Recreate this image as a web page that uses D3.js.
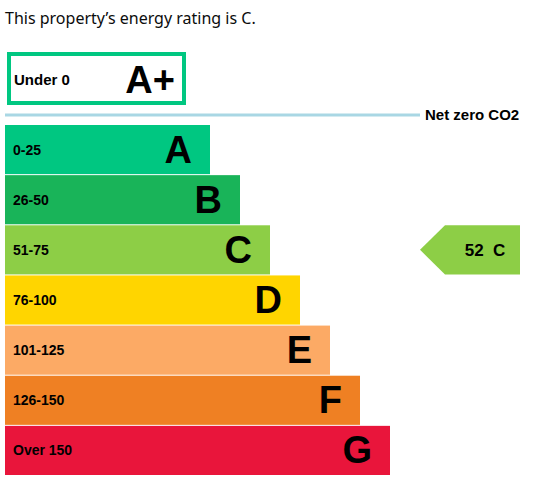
<!DOCTYPE html>
<html><head><meta charset="utf-8">
<script src="https://cdn.jsdelivr.net/npm/d3@7"></script>
<style>body{margin:0;background:#fff}</style></head>
<body><svg id="c" width="560" height="484"></svg>
<script>
const bands = ["A","B","C","D","E","F","G"];
const ranges = ["0-25","26-50","51-75","76-100","101-125","126-150","Over 150"];
const maxScore = [25,50,75,100,125,150,175];
const colors = ["#00c781","#19b459","#8dce46","#ffd500","#fcaa65","#ef8023","#e9153b"];
const current = {score:52, band:"C"};

const svg = d3.select("#c");
const font = "Arial, 'Liberation Sans', sans-serif";
svg.append("text").attr("x",5).attr("y",24).attr("font-family","'Noto Sans', sans-serif")
  .attr("font-size",16).attr("fill","#0b0c0c").text("This property\u2019s energy rating is C.");

const y = d3.scaleBand().domain(bands).range([125,475]).paddingInner(0.02);
const w = d3.scaleLinear().domain([25,175]).range([205,385]);

// A+ box
svg.append("rect").attr("x",9).attr("y",54).attr("width",175).attr("height",49)
  .attr("fill","#fff").attr("stroke","#00c781").attr("stroke-width",4);
svg.append("text").attr("x",14).attr("y",85).attr("font-family",font).attr("font-weight","bold")
  .attr("font-size",15).text("Under 0");
svg.append("text").attr("x",175).attr("y",93).attr("text-anchor","end").attr("font-family",font)
  .attr("font-weight","bold").attr("font-size",38).text("A+");
svg.append("line").attr("x1",5).attr("x2",420).attr("y1",115).attr("y2",115)
  .attr("stroke","#a9d7e4").attr("stroke-width",3);
svg.append("text").attr("x",425).attr("y",120).attr("font-family",font).attr("font-weight","bold")
  .attr("font-size",15).text("Net zero CO2");

const g = svg.selectAll("g.b").data(bands).join("g");
g.append("rect").attr("x",5).attr("y",d=>y(d)).attr("height",y.bandwidth())
  .attr("width",(d,i)=>w(maxScore[i])).attr("fill",(d,i)=>colors[i]);
g.append("text").attr("x",13).attr("y",d=>y(d)+y.bandwidth()/2+5).attr("font-family",font)
  .attr("font-weight","bold").attr("font-size",14).text((d,i)=>ranges[i]);
g.append("text").attr("x",(d,i)=>5+w(maxScore[i])-18).attr("y",d=>y(d)+y.bandwidth()/2+13)
  .attr("text-anchor","end").attr("font-family",font).attr("font-weight","bold")
  .attr("font-size",38).text(d=>d);

// current arrow
const cy = y(current.band), h = y.bandwidth();
svg.append("path").attr("d",`M420,${cy+h/2}L445,${cy}H520V${cy+h}H445Z`).attr("fill","#8dce46");
svg.append("text").attr("x",485).attr("y",cy+h/2+6).attr("text-anchor","middle").attr("font-family",font)
  .attr("font-weight","bold").attr("font-size",17).attr("xml:space","preserve").text(current.score+"  "+current.band);
</script></body></html>
